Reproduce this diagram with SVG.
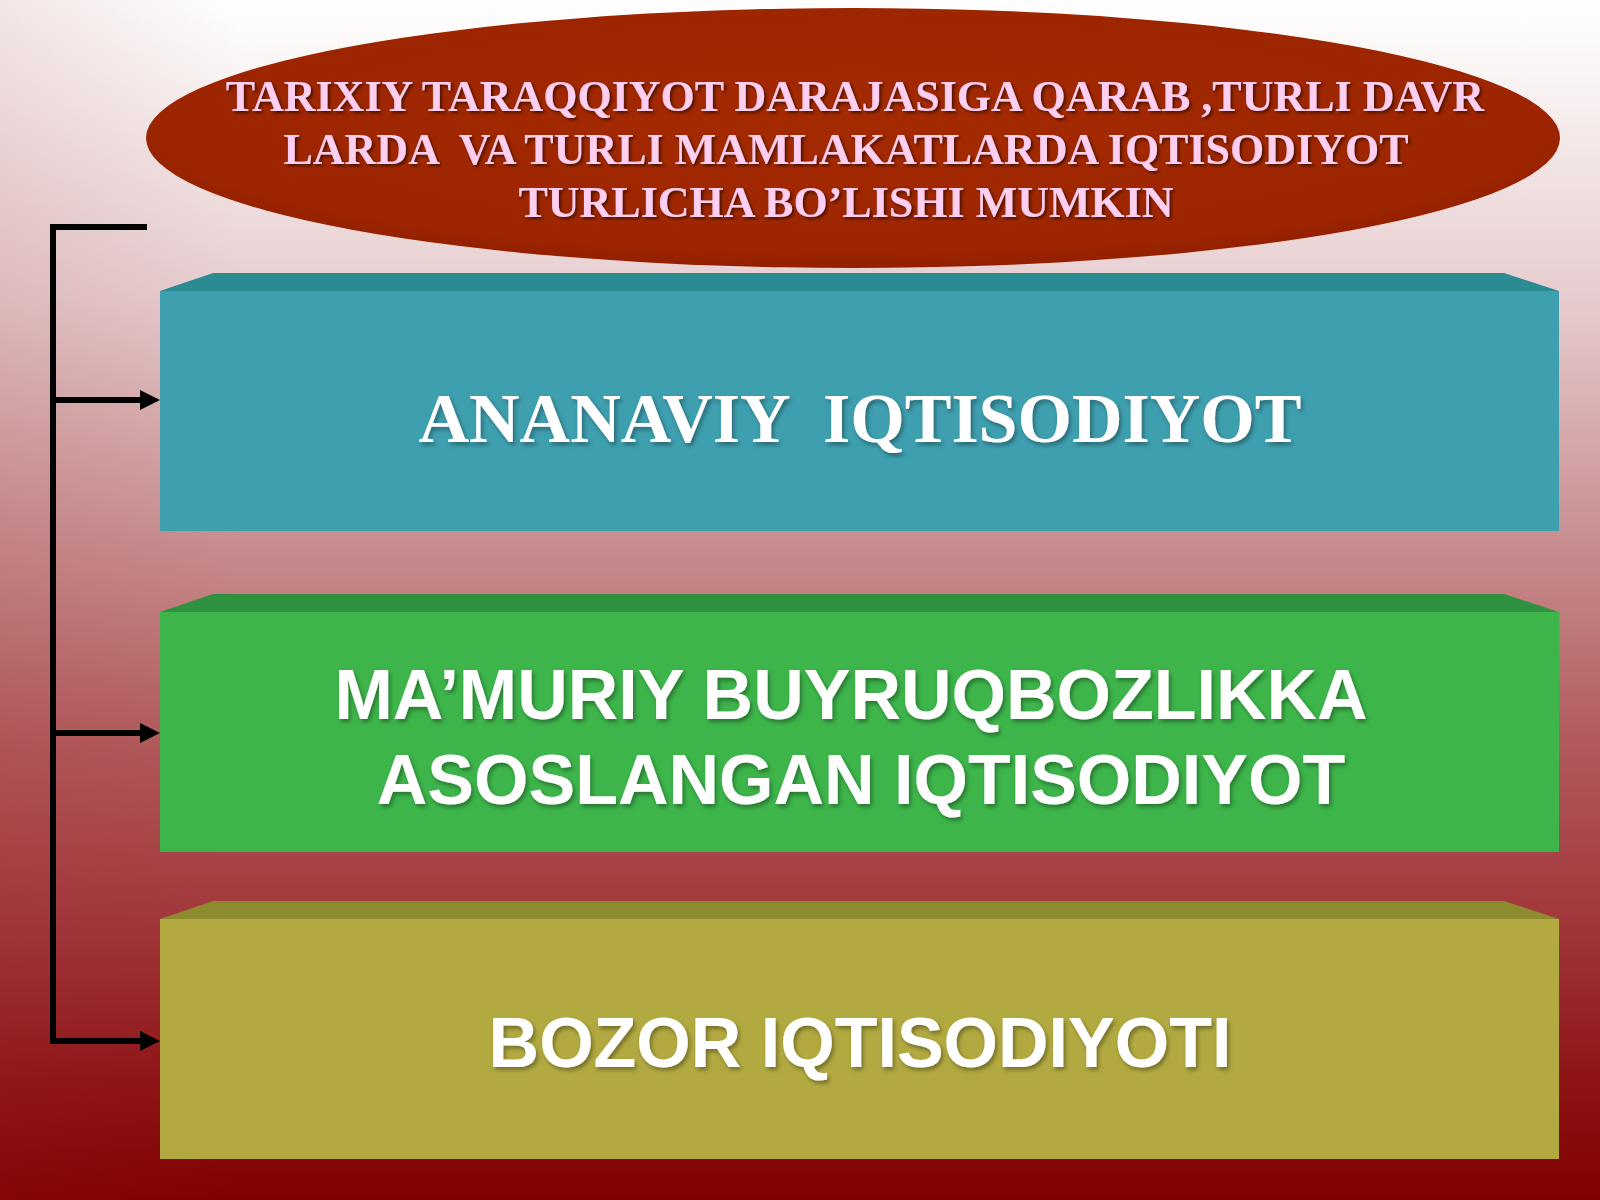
<svg xmlns="http://www.w3.org/2000/svg" width="1600" height="1200" viewBox="0 0 1600 1200">
  <defs>
    <linearGradient id="bg" x1="0" y1="0" x2="0" y2="1">
      <stop offset="0" stop-color="#FFFFFF"/>
      <stop offset="0.08" stop-color="#F8F0F0"/>
      <stop offset="0.25" stop-color="#E6CCCE"/>
      <stop offset="0.45" stop-color="#C88E90"/>
      <stop offset="0.62" stop-color="#B25A5C"/>
      <stop offset="0.78" stop-color="#A03438"/>
      <stop offset="0.9" stop-color="#8E1416"/>
      <stop offset="1" stop-color="#800000"/>
    </linearGradient>
    <linearGradient id="bgSide" x1="0" y1="0" x2="1" y2="0">
      <stop offset="0" stop-color="#9A3030" stop-opacity="0.12"/>
      <stop offset="0.15" stop-color="#9A3030" stop-opacity="0"/>
      <stop offset="1" stop-color="#9A3030" stop-opacity="0"/>
    </linearGradient>
    <radialGradient id="ellFill" cx="0.5" cy="0.45" r="0.55">
      <stop offset="0" stop-color="#A42A00"/>
      <stop offset="0.9" stop-color="#9C2500"/>
      <stop offset="1" stop-color="#921F00"/>
    </radialGradient>
    <filter id="shadow" x="-5%" y="-20%" width="110%" height="140%">
      <feDropShadow dx="2" dy="2" stdDeviation="1.5" flood-color="#000000" flood-opacity="0.55"/>
    </filter>
    <filter id="shadowSoft" x="-5%" y="-20%" width="110%" height="140%">
      <feDropShadow dx="2" dy="3" stdDeviation="2" flood-color="#000000" flood-opacity="0.35"/>
    </filter>
    <marker id="arrow" markerUnits="userSpaceOnUse" markerWidth="20" markerHeight="20" refX="10" refY="10" orient="auto">
      <path d="M0,0 L20,10 L0,20 Z" fill="#000000"/>
    </marker>
    <style>
      .serif { font-family: "Liberation Serif", "Times New Roman", serif; font-weight: bold; white-space: pre; }
      .sans { font-family: "Liberation Sans", Arial, sans-serif; font-weight: bold; white-space: pre; }
      .head { font-size: 44px; fill: #FFCFF2; }
      .big { font-size: 70px; fill: #FFFFFF; }
      .conn { fill: none; stroke: #000000; stroke-width: 6; }
    </style>
  </defs>

  <rect x="0" y="0" width="1600" height="1200" fill="url(#bg)"/>
  <rect x="0" y="0" width="1600" height="1200" fill="url(#bgSide)"/>

  <g id="title">
    <ellipse cx="853" cy="138" rx="707" ry="130" fill="url(#ellFill)"/>
    <text class="serif head" text-anchor="middle" filter="url(#shadow)"><tspan x="855" y="111">TARIXIY TARAQQIYOT DARAJASIGA QARAB ,TURLI DAVR</tspan><tspan x="846" y="164">LARDA  VA TURLI MAMLAKATLARDA IQTISODIYOT</tspan><tspan x="846" y="217">TURLICHA BO’LISHI MUMKIN</tspan></text>
  </g>

  <g id="connectors">
    <path class="conn" d="M147,227 H53 V1041 H150" marker-end="url(#arrow)"/>
    <path class="conn" d="M53,400 H150" marker-end="url(#arrow)"/>
    <path class="conn" d="M53,733 H150" marker-end="url(#arrow)"/>
  </g>

  <g id="box-ananaviy">
    <polygon points="160,291 213,273 1504,273 1559,291" fill="#2B8B92"/>
    <rect x="160" y="291" width="1399" height="240" fill="#3E9FAF"/>
    <text class="serif big" x="860" y="442" text-anchor="middle" filter="url(#shadowSoft)">ANANAVIY  IQTISODIYOT</text>
  </g>

  <g id="box-mamuriy">
    <polygon points="160,612 213,594 1504,594 1559,612" fill="#2E9240"/>
    <rect x="160" y="612" width="1399" height="240" fill="#3DB54A"/>
    <text class="sans big" text-anchor="middle" filter="url(#shadowSoft)"><tspan x="851" y="719">MA’MURIY BUYRUQBOZLIKKA</tspan><tspan x="861" y="804">ASOSLANGAN IQTISODIYOT</tspan></text>
  </g>

  <g id="box-bozor">
    <polygon points="160,919 213,901 1504,901 1559,919" fill="#8D8A2F"/>
    <rect x="160" y="919" width="1399" height="240" fill="#B2AA40"/>
    <text class="sans big" x="860" y="1067" text-anchor="middle" filter="url(#shadowSoft)">BOZOR IQTISODIYOTI</text>
  </g>
</svg>
